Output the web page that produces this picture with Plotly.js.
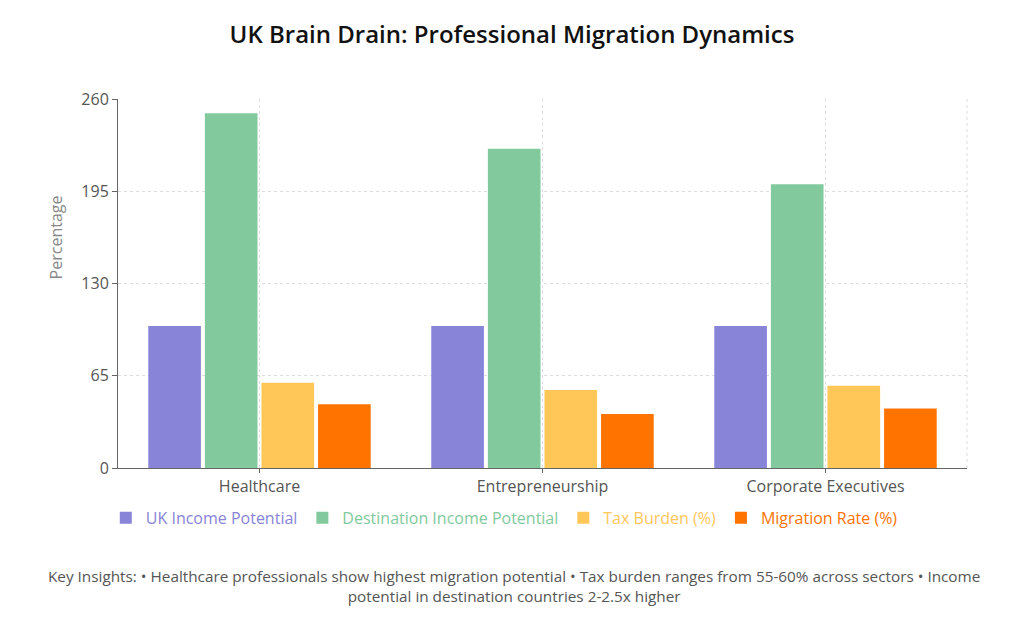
<!DOCTYPE html>
<html><head><meta charset="utf-8">
<script src="https://cdn.plot.ly/plotly-3.0.1.min.js"></script>
<style>html,body{margin:0;padding:0;background:#fff;}#chart{width:1024px;height:633px;}</style>
</head><body><div id="chart"></div>
<script>
const categories = ["Healthcare", "Entrepreneurship", "Corporate Executives"];
const ukIncome = [100, 100, 100];
const destIncome = [250, 225, 200];
const taxBurden = [60, 55, 58];
const migrationRate = [45, 38, 42];
const seriesNames = ["UK Income Potential", "Destination Income Potential", "Tax Burden (%)", "Migration Rate (%)"];
const seriesColors = ["#8884d8", "#82ca9d", "#ffc658", "#ff7300"];
const yTicks = [0, 65, 130, 195, 260];

const values = [ukIncome, destIncome, taxBurden, migrationRate];
const traces = values.map((v, i) => ({
  type: "bar",
  x: categories,
  y: v,
  name: '<span style="color:' + seriesColors[i] + '">' + seriesNames[i] + '</span>',
  marker: {color: seriesColors[i]},
  hoverinfo: "y"
}));

const gridDash = "3px,3px";
const layout = {
  width: 1024, height: 633,
  paper_bgcolor: "#ffffff", plot_bgcolor: "#ffffff",
  font: {family: "Open Sans, Noto Sans, sans-serif", color: "#666"},
  margin: {l: 118, r: 57, t: 99, b: 165, autoexpand: false},
  title: {text: "UK Brain Drain: Professional Migration Dynamics", x: 0.5, xanchor: "center", y: 0.945, yanchor: "middle",
          font: {size: 24, color: "#111", family: "Open Sans, sans-serif", weight: 600}},
  barmode: "group", bargap: 0.2, bargroupgap: 0.07,
  xaxis: {
    showgrid: true, gridcolor: "#ddd", griddash: gridDash, gridwidth: 1,
    showline: true, linecolor: "#666", linewidth: 1,
    ticks: "outside", ticklen: 4, tickcolor: "#666",
    tickfont: {size: 16, color: "#555"}, tickangle: 0,
    mirror: false, zeroline: false
  },
  yaxis: {
    range: [0, 260], tickvals: yTicks, ticktext: yTicks.map(String),
    showgrid: true, gridcolor: "#ddd", griddash: gridDash, gridwidth: 1,
    showline: true, linecolor: "#666", linewidth: 1,
    ticks: "outside", ticklen: 5, tickcolor: "#666",
    tickfont: {size: 16, color: "#555"},
    zeroline: false
  },
  shapes: [
    {type: "line", xref: "paper", yref: "paper", x0: 1, x1: 1, y0: 0, y1: 1, line: {color: "#ddd", width: 1, dash: gridDash}}
  ],
  legend: {orientation: "h", x: 0.455, xanchor: "center", y: -0.135, yanchor: "middle",
           font: {size: 16}, itemwidth: 30, tracegroupgap: 0},
  annotations: [{
    xref: "paper", yref: "paper", x: 0.467, y: -0.32, xanchor: "center", yanchor: "middle",
    text: "Key Insights: • Healthcare professionals show highest migration potential • Tax burden ranges from 55-60% across sectors • Income<br>potential in destination countries 2-2.5x higher",
    showarrow: false, font: {size: 15.3, color: "#555"}, align: "center"
  }, {
    xref: "paper", yref: "paper", x: -0.073, y: 0.625, xanchor: "center", yanchor: "middle",
    text: "Percentage", textangle: -90, showarrow: false, font: {size: 16, color: "#888"}
  }]
};

Plotly.newPlot("chart", traces, layout, {displayModeBar: false, responsive: false});
</script>
</body></html>
